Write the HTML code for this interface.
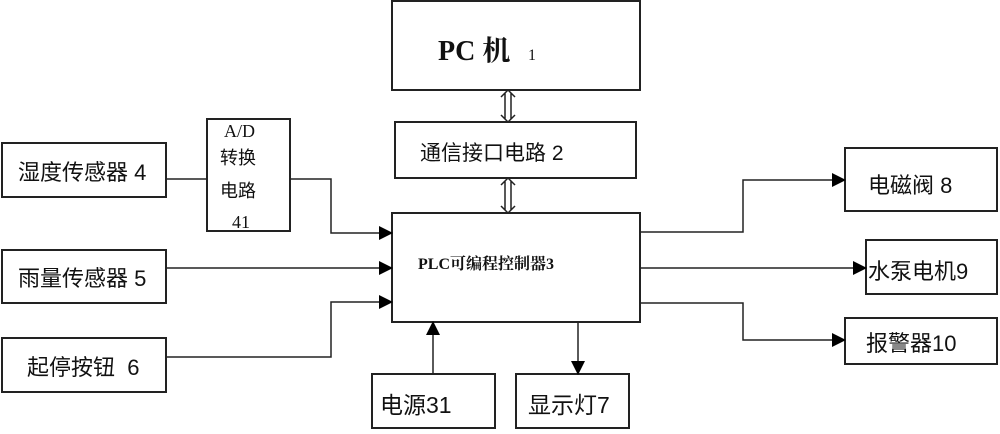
<!DOCTYPE html>
<html><head><meta charset="utf-8"><style>
body{margin:0;background:#fff;width:1000px;height:429px;overflow:hidden}
svg text{font-family:"Liberation Sans","Noto Sans CJK SC",sans-serif;fill:#111}
svg text.s{font-family:"Liberation Serif","Noto Serif CJK SC",serif}
</style></head><body>
<svg width="1000" height="429" viewBox="0 0 1000 429">
<defs>
<marker id="b" markerWidth="14" markerHeight="14" refX="13" refY="7" orient="auto" markerUnits="userSpaceOnUse"><path d="M0,0 L14,7 L0,14Z" fill="#000"/></marker></defs>
<g fill="none" stroke="#222" stroke-width="2">
<rect x="392" y="1" width="248" height="89"/>
<rect x="395" y="122" width="241" height="56"/>
<rect x="392" y="213" width="248" height="109"/>
<rect x="2" y="143" width="164" height="54"/>
<rect x="2" y="250" width="164" height="53"/>
<rect x="2" y="338" width="164" height="54"/>
<rect x="207" y="119" width="83" height="112"/>
<rect x="372" y="374" width="123" height="54"/>
<rect x="516" y="374" width="113" height="54"/>
<rect x="845" y="148" width="152" height="63"/>
<rect x="866" y="240" width="131" height="54"/>
<rect x="845" y="318" width="152" height="46"/>
</g>
<g fill="none" stroke="#222" stroke-width="1.5">
<path d="M166 179H207"/>
<path d="M290 179H331V233H392" marker-end="url(#b)"/>
<path d="M166 268H392" marker-end="url(#b)"/>
<path d="M166 357H331V302H392" marker-end="url(#b)"/>
<path d="M433 374V322" marker-end="url(#b)"/>
<path d="M578 322V374" marker-end="url(#b)"/>
<path d="M640 232H743V180H845" marker-end="url(#b)"/>
<path d="M640 268H866" marker-end="url(#b)"/>
<path d="M640 303H743V340H845" marker-end="url(#b)"/>
<path d="M505 93V119M511 93V119M501 97L508 90L515 97M501 115L508 122L515 115"/>
<path d="M505 181V210M511 181V210M501 185L508 178L515 185M501 206L508 213L515 206"/>
</g>
<text class="s" x="438" y="60" font-size="28" font-weight="bold">PC 机</text>
<text class="s" x="528" y="60" font-size="16">1</text>
<text x="420" y="160" font-size="21" fill="#555">通信接口电路 2</text>
<text class="s" x="418" y="269" font-size="16" font-weight="bold">PLC可编程控制器3</text>
<text x="18" y="180" font-size="22">湿度传感器 4</text>
<text x="18" y="286" font-size="22">雨量传感器 5</text>
<text x="27" y="375" font-size="22">起停按钮 &#160;6</text>
<text class="s" x="224" y="137" font-size="18">A/D</text>
<text x="220" y="164" font-size="18">转换</text>
<text x="220" y="197" font-size="18">电路</text>
<text class="s" x="232" y="228" font-size="18">41</text>
<text x="380" y="413" font-size="23">电源31</text>
<text x="528" y="413" font-size="23">显示灯7</text>
<text x="868" y="193" font-size="22">电磁阀 8</text>
<text x="868" y="279" font-size="22">水泵电机9</text>
<text x="866" y="351" font-size="22">报警器10</text>
</svg>
</body></html>
